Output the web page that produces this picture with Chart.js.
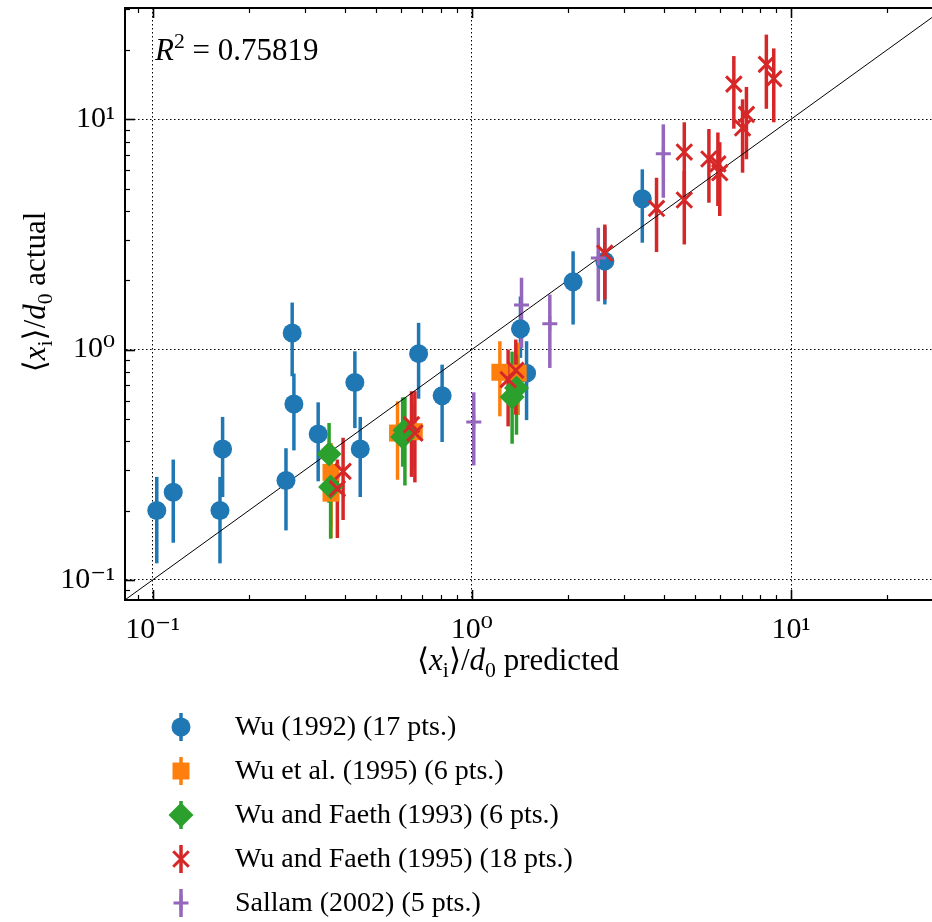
<!DOCTYPE html>
<html>
<head>
<meta charset="utf-8">
<script src="https://cdn.jsdelivr.net/npm/chart.js@4"></script>
<style>
  body { margin: 0; background: #fff; overflow: hidden; }
  #chart { display: block; }
</style>
</head>
<body>
<canvas id="chart" width="932" height="922"></canvas>
<script>
// Wu (1992)
let wu92X  = [0.103, 0.116, 0.1656, 0.1625, 0.2736, 0.277, 0.2616, 0.33, 0.43, 0.447, 0.681, 0.807, 1.42, 1.484, 2.076, 2.61, 3.42];
let wu92Y  = [0.2, 0.24, 0.37, 0.2, 1.18, 0.58, 0.27, 0.43, 0.72, 0.37, 0.96, 0.63, 1.23, 0.79, 1.97, 2.42, 4.52];
let wu92Lo = [0.118, 0.145, 0.229, 0.118, 0.766, 0.365, 0.164, 0.268, 0.456, 0.229, 0.612, 0.397, 0.92, 0.494, 1.284, 1.57, 2.91];
let wu92Hi = [0.28, 0.333, 0.51, 0.28, 1.6, 0.787, 0.373, 0.59, 0.983, 0.51, 1.306, 0.86, 1.7, 1.087, 2.67, 3.4, 6.06];

// Wu et al. (1995)
let wu95X  = [0.362, 0.362, 0.585, 0.66, 1.224, 1.397];
let wu95Y  = [0.293, 0.238, 0.434, 0.44, 0.797, 0.79];
let wu95Lo = [0.17, 0.152, 0.272, 0.3, 0.513, 0.52];
let wu95Hi = [0.393, 0.36, 0.596, 0.58, 1.087, 1.07];

// Wu and Faeth (1993)
let wf93X  = [0.357, 0.361, 0.617, 0.607, 1.38, 1.337];
let wf93Y  = [0.352, 0.253, 0.446, 0.417, 0.681, 0.623];
let wf93Lo = [0.216, 0.151, 0.257, 0.31, 0.427, 0.39];
let wf93Hi = [0.48, 0.37, 0.62, 0.62, 0.95, 0.98];

// Wu and Faeth (1995)
let wf95X  = [0.379, 0.395, 0.647, 0.663, 1.299, 1.373, 2.61, 3.79, 4.63, 4.63, 5.53, 5.9, 5.98, 6.62, 7.05, 7.25, 8.37, 8.83];
let wf95Y  = [0.249, 0.296, 0.472, 0.434, 0.741, 0.813, 2.62, 4.1, 7.2, 4.46, 6.72, 6.4, 5.86, 14.2, 9.16, 10.5, 17.3, 15.0];
let wf95Lo = [0.152, 0.182, 0.28, 0.265, 0.464, 0.522, 1.65, 2.65, 4.6, 2.86, 4.34, 4.2, 3.8, 9.1, 5.86, 6.7, 11.1, 9.7];
let wf95Hi = [0.333, 0.414, 0.659, 0.66, 1.0, 1.105, 3.49, 5.57, 9.7, 5.96, 9.07, 8.76, 7.95, 18.8, 12.2, 13.8, 23.3, 20.3];

// Sallam (2002)
let sal02X  = [1.014, 1.431, 1.755, 2.49, 3.98];
let sal02Y  = [0.485, 1.56, 1.293, 2.5, 7.08];
let sal02Lo = [0.314, 1.017, 0.832, 1.62, 4.56];
let sal02Hi = [0.652, 2.05, 1.733, 3.38, 9.5];

let identityLine = [0.05, 50];
let rSquared = '0.75819';

let xRange = [0.0819, 27.65];
let yRange = [0.0818, 30.4];
let logTicks = [0.09, 0.1, 0.2, 0.3, 0.4, 0.5, 0.6, 0.7, 0.8, 0.9, 1, 2, 3, 4, 5, 6, 7, 8, 9, 10, 20, 30];
let majorTicks = [0.1, 1, 10];
let tickLabels = { 0.1: '10\u207B\u00B9', 1: '10\u2070', 10: '10\u00B9' };

let serif = '"Liberation Serif", "DejaVu Serif", serif';

let toPoints = function(xs, ys) {
  return xs.map((v, i) => ({ x: v, y: ys[i] }));
}

let series = [
  { name: 'Wu (1992)', xs: wu92X, ys: wu92Y, lo: wu92Lo, hi: wu92Hi, color: '#1f77b4', style: 'circle', radius: 9.5, bw: 0 },
  { name: 'Wu et al. (1995)', xs: wu95X, ys: wu95Y, lo: wu95Lo, hi: wu95Hi, color: '#ff7f0e', style: 'rect', radius: 12, bw: 0 },
  { name: 'Wu and Faeth (1993)', xs: wf93X, ys: wf93Y, lo: wf93Lo, hi: wf93Hi, color: '#2ca02c', style: 'rectRot', radius: 12.5, bw: 0 },
  { name: 'Wu and Faeth (1995)', xs: wf95X, ys: wf95Y, lo: wf95Lo, hi: wf95Hi, color: '#d62728', style: 'crossRot', radius: 11, bw: 3 },
  { name: 'Sallam (2002)', xs: sal02X, ys: sal02Y, lo: sal02Lo, hi: sal02Hi, color: '#9467bd', style: 'cross', radius: 7.5, bw: 3 }
];

let datasets = series.map((s, i) => ({
  label: s.name + ' (' + s.xs.length + ' pts.)',
  data: toPoints(s.xs, s.ys),
  errLo: s.lo,
  errHi: s.hi,
  errColor: s.color,
  pointStyle: s.style,
  pointRadius: s.radius,
  pointBorderWidth: s.bw,
  pointBackgroundColor: s.color,
  pointBorderColor: s.color,
  showLine: false,
  order: series.length - i
}));

datasets.push({
  label: 'identity',
  type: 'line',
  data: toPoints(identityLine, identityLine),
  borderColor: '#000',
  borderWidth: 1,
  pointRadius: 0,
  order: 10
});

// mixed roman / italic / sub / sup text
let drawRich = function(ctx, parts, x, y, size, align) {
  let fontFor = st => {
    let sz = (st === 'sub' || st === 'sup') ? size * 0.7 : size;
    return (st === 'i' ? 'italic ' : '') + sz + 'px ' + serif;
  };
  let total = 0;
  parts.forEach(p => { ctx.font = fontFor(p[1]); total += ctx.measureText(p[0]).width; });
  let cx = align === 'center' ? x - total / 2 : x;
  ctx.textAlign = 'left';
  ctx.textBaseline = 'alphabetic';
  parts.forEach(p => {
    ctx.font = fontFor(p[1]);
    let dy = p[1] === 'sub' ? size * 0.22 : (p[1] === 'sup' ? -size * 0.4 : 0);
    ctx.fillText(p[0], cx, y + dy);
    cx += ctx.measureText(p[0]).width;
  });
}

let errorBars = {
  id: 'errorBars',
  beforeDatasetsDraw(chart) {
    let ctx = chart.ctx;
    let area = chart.chartArea;
    let xs = chart.scales.x, ys = chart.scales.y;
    ctx.save();
    ctx.beginPath();
    ctx.rect(area.left, area.top, area.width, area.height);
    ctx.clip();
    ctx.lineWidth = 3.5;
    chart.data.datasets.forEach(ds => {
      if (!ds.errLo) return;
      ctx.strokeStyle = ds.errColor;
      ds.data.forEach((p, i) => {
        let px = xs.getPixelForValue(p.x);
        ctx.beginPath();
        ctx.moveTo(px, ys.getPixelForValue(ds.errLo[i]));
        ctx.lineTo(px, ys.getPixelForValue(ds.errHi[i]));
        ctx.stroke();
      });
    });
    ctx.restore();
  }
};

let frame = {
  id: 'frame',
  afterDraw(chart) {
    let ctx = chart.ctx;
    let area = chart.chartArea;
    let xs = chart.scales.x, ys = chart.scales.y;
    ctx.save();
    ctx.strokeStyle = '#000';

    // inward ticks, bottom/top/left
    xs.ticks.forEach(t => {
      let major = majorTicks.includes(t.value);
      let len = major ? 10 : 5;
      let px = Math.round(xs.getPixelForValue(t.value)) + 0.5;
      ctx.lineWidth = major ? 1.6 : 1.2;
      ctx.beginPath();
      ctx.moveTo(px, area.bottom); ctx.lineTo(px, area.bottom - len);
      ctx.moveTo(px, area.top); ctx.lineTo(px, area.top + len);
      ctx.stroke();
    });
    ys.ticks.forEach(t => {
      let major = majorTicks.includes(t.value);
      let len = major ? 10 : 5;
      let py = Math.round(ys.getPixelForValue(t.value)) + 0.5;
      ctx.lineWidth = major ? 1.6 : 1.2;
      ctx.beginPath();
      ctx.moveTo(area.left, py); ctx.lineTo(area.left + len, py);
      ctx.stroke();
    });

    // top spine
    ctx.lineWidth = 2;
    ctx.beginPath();
    ctx.moveTo(area.left - 1, area.top); ctx.lineTo(area.right, area.top);
    ctx.stroke();

    ctx.fillStyle = '#000';
    drawRich(ctx, [['R', 'i'], ['2', 'sup'], [' = ' + rSquared, '']], 155, 60, 31, 'left');

    // axis titles
    let xTitle = [['\u27E8', ''], ['x', 'i'], ['i', 'sub'], ['\u27E9/', ''], ['d', 'i'], ['0', 'sub'], [' predicted', '']];
    drawRich(ctx, xTitle, 518, 670, 31, 'center');
    ctx.save();
    ctx.translate(45, 292);
    ctx.rotate(-Math.PI / 2);
    let yTitle = [['\u27E8', ''], ['x', 'i'], ['i', 'sub'], ['\u27E9/', ''], ['d', 'i'], ['0', 'sub'], [' actual', '']];
    drawRich(ctx, yTitle, 0, 0, 31, 'center');
    ctx.restore();

    // legend under the plot
    chart.data.datasets.forEach((ds, i) => {
      if (!ds.errLo) return;
      let cy = 727 + i * 44;
      let cx = 181;
      ctx.strokeStyle = ds.errColor;
      ctx.fillStyle = ds.errColor;
      ctx.lineWidth = 3.5;
      ctx.beginPath();
      ctx.moveTo(cx, cy - 14); ctx.lineTo(cx, cy + 14);
      ctx.stroke();
      ctx.lineWidth = ds.pointBorderWidth;
      Chart.helpers.drawPoint(ctx, { pointStyle: ds.pointStyle, radius: ds.pointRadius, borderWidth: ds.pointBorderWidth, rotation: 0 }, cx, cy);
      ctx.fillStyle = '#000';
      ctx.font = '28px ' + serif;
      ctx.textAlign = 'left';
      ctx.textBaseline = 'middle';
      ctx.fillText(ds.label, 235, cy + 1);
    });
    ctx.restore();
  }
};

let logAxis = function(range, pos) {
  return {
    type: 'logarithmic',
    position: pos,
    min: range[0],
    max: range[1],
    afterBuildTicks: scale => {
      scale.ticks = logTicks.filter(v => v >= range[0] && v <= range[1]).map(v => ({ value: v, major: majorTicks.includes(v) }));
    },
    afterFit: scale => {
      if (pos === 'left') scale.width = 125;
      else scale.height = 322;
      // no extra room for edge labels, the plot box is fixed
      scale.paddingTop = 0;
      scale.paddingBottom = 0;
      scale.paddingLeft = 0;
      scale.paddingRight = 0;
    },
    border: { display: true, color: '#000', width: 2, dash: [1.5, 2.5] },
    grid: {
      drawTicks: false,
      lineWidth: 1,
      color: c => (c.tick && majorTicks.includes(c.tick.value)) ? '#000' : 'rgba(0,0,0,0)'
    },
    ticks: {
      autoSkip: false,
      maxRotation: 0,
      padding: pos === 'left' ? 10 : 12,
      color: '#000',
      font: { family: serif, size: 30 },
      callback: v => tickLabels[v] || ''
    }
  };
}

let ctx = document.getElementById('chart').getContext('2d');
let chart = new Chart(ctx, {
  type: 'scatter',
  data: { datasets: datasets },
  options: {
    responsive: false,
    animation: false,
    devicePixelRatio: 1,
    layout: { autoPadding: false, padding: { left: 0, right: 0, top: 8, bottom: 0 } },
    plugins: { legend: { display: false }, tooltip: { enabled: false } },
    scales: {
      x: logAxis(xRange, 'bottom'),
      y: logAxis(yRange, 'left')
    }
  },
  plugins: [errorBars, frame]
});
</script>
</body>
</html>
